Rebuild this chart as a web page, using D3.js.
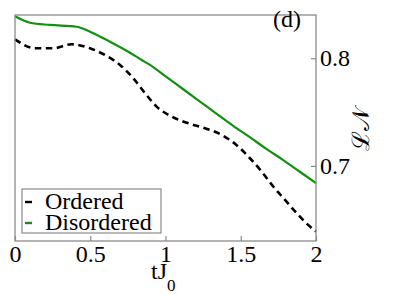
<!DOCTYPE html>
<html>
<head>
<meta charset="utf-8">
<script src="https://cdn.jsdelivr.net/npm/d3@7"></script>
<style>
  body { margin: 0; background: #fff; }
</style>
</head>
<body>
<div id="chart"></div>
<script>
// size of the picture and the plot box inside it
const width = 415
const height = 294
const margin = {top: 15, right: 99, bottom: 53, left: 15}
const serif = "Liberation Serif"

// values
const tOrd = [0, 0.133, 0.255, 0.376, 0.498, 0.598, 0.698, 0.786, 0.864, 0.941, 1.041, 1.152, 1.262, 1.373, 1.462, 1.561, 1.639, 1.716, 1.794, 1.872, 1.96, 2.0]
const ordered = [0.8176, 0.8093, 0.8093, 0.813, 0.8093, 0.803, 0.7938, 0.7814, 0.7675, 0.7551, 0.7458, 0.7396, 0.735, 0.7288, 0.7205, 0.7071, 0.6947, 0.6808, 0.6684, 0.656, 0.6436, 0.639]
const tDis = [0, 0.1, 0.233, 0.41, 0.52, 0.631, 0.753, 0.842, 0.897, 1.008, 1.118, 1.229, 1.34, 1.45, 1.56, 1.67, 1.78, 1.89, 2.0]
const disordered = [0.839, 0.833, 0.831, 0.8293, 0.8232, 0.8154, 0.8061, 0.7984, 0.7938, 0.7824, 0.7712, 0.7598, 0.7483, 0.7372, 0.7267, 0.7158, 0.7056, 0.6948, 0.684]
const xTicks = [0, 0.5, 1, 1.5, 2]
const yTicks = [0.7, 0.8]
const seriesNames = ["Ordered", "Disordered"]

const frameColour = "#8a8a8a"
const green = "#119011"

const svg = d3.select("#chart")
    .append("svg")
    .attr("width", width)
    .attr("height", height)
    .attr("font-family", serif)

const x = d3.scaleLinear().domain([0, 2]).range([margin.left, width - margin.right])
const y = d3.scaleLinear().domain([0.6302, 0.8402]).range([height - margin.bottom, margin.top])

const line = d3.line()
    .x(d => x(d[0]))
    .y(d => y(d[1]))
    .curve(d3.curveMonotoneX)

// curves
svg.append("path")
    .datum(tOrd.map((t, i) => [t, ordered[i]]))
    .attr("d", line)
    .attr("fill", "none")
    .attr("stroke", "#000")
    .attr("stroke-width", 2.6)
    .attr("stroke-dasharray", "6.5,4.5")

svg.append("path")
    .datum(tDis.map((t, i) => [t, disordered[i]]))
    .attr("d", line)
    .attr("fill", "none")
    .attr("stroke", green)
    .attr("stroke-width", 2.2)

// frame
svg.append("rect")
    .attr("x", x(0)).attr("y", y.range()[1])
    .attr("width", x(2) - x(0)).attr("height", y.range()[0] - y.range()[1])
    .attr("fill", "none")
    .attr("stroke", frameColour)
    .attr("stroke-width", 1.3)

// x axis, ticks pointing in
const xAxis = svg.append("g")
    .attr("transform", "translate(0," + y.range()[0] + ")")
    .call(d3.axisBottom(x).tickValues(xTicks).tickSizeInner(-5).tickSizeOuter(0).tickPadding(4).tickFormat(d3.format("")))
xAxis.attr("font-family", serif).attr("font-size", 24)
xAxis.select(".domain").remove()
xAxis.selectAll("line").attr("stroke", frameColour).attr("stroke-width", 1.2)
xAxis.selectAll("text").attr("fill", "#000")

// y axis on the right, ticks pointing in
const yAxis = svg.append("g")
    .attr("transform", "translate(" + x(2) + ",0)")
    .call(d3.axisRight(y).tickValues(yTicks).tickSizeInner(-5).tickSizeOuter(0).tickPadding(4).tickFormat(d3.format(".1f")))
yAxis.attr("font-family", serif).attr("font-size", 24)
yAxis.select(".domain").remove()
yAxis.selectAll("line").attr("stroke", frameColour).attr("stroke-width", 1.2)
yAxis.selectAll("text").attr("fill", "#000")

// axis titles
const xt = svg.append("text")
    .attr("x", 151).attr("y", 279)
    .attr("font-size", 24)
xt.append("tspan").text("tJ")
xt.append("tspan").attr("dy", 12).attr("font-size", 17).text("0")

svg.append("text")
    .attr("transform", "translate(369,129) rotate(-90)")
    .attr("text-anchor", "middle")
    .attr("font-size", 24)
    .text("ℒ𝒩")

// panel tag
svg.append("text")
    .attr("x", 273).attr("y", 27)
    .attr("font-size", 24)
    .text("(d)")

// handmade legend
const legend = svg.append("g")
legend.append("rect")
    .attr("x", 22).attr("y", 189).attr("width", 139).attr("height", 44)
    .attr("fill", "#fff").attr("stroke", frameColour).attr("stroke-width", 1.2)
const legendColours = ["#000", green]
seriesNames.forEach((name, i) => {
    const by = 209 + i * 21
    legend.append("line")
        .attr("x1", 25).attr("x2", 32)
        .attr("y1", by - 7).attr("y2", by - 7)
        .attr("stroke", legendColours[i]).attr("stroke-width", 2.4)
    legend.append("text")
        .attr("x", 45).attr("y", by)
        .attr("font-size", 24)
        .text(name)
})
</script>
</body>
</html>
